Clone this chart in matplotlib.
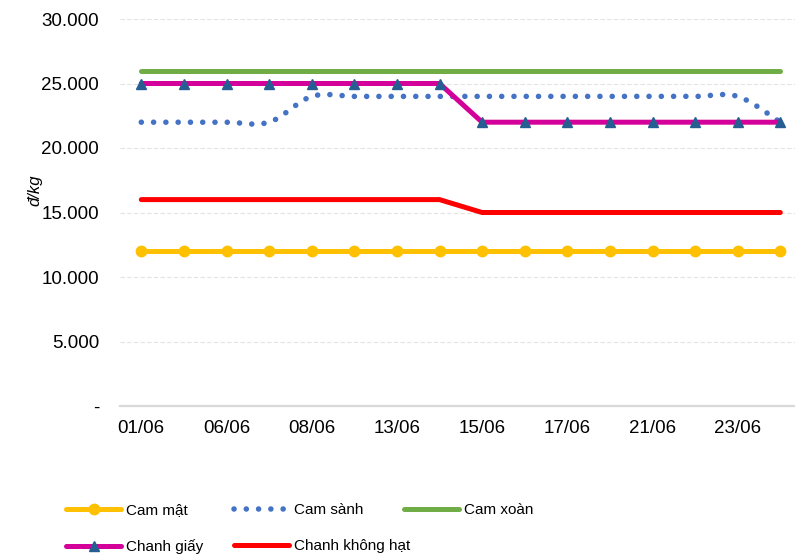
import numpy as np
import matplotlib
matplotlib.use("Agg")
import matplotlib.pyplot as plt
from matplotlib.lines import Line2D

plt.rcParams['font.family'] = ['Liberation Sans', 'DejaVu Sans']

dates = ["01/06", "02/06", "06/06", "07/06", "08/06", "09/06", "13/06", "14/06",
         "15/06", "16/06", "17/06", "20/06", "21/06", "22/06", "23/06", "24/06"]
cam_mat = [12000] * 16
cam_sanh = [22000, 22000, 22000, 22000, 24000, 24000, 24000, 24000,
            24000, 24000, 24000, 24000, 24000, 24000, 24000, 22000]
cam_xoan = [26000] * 16
chanh_giay = [25000] * 8 + [22000] * 8
chanh_khong_hat = [16000] * 8 + [15000] * 8

y_ticks = [0, 5000, 10000, 15000, 20000, 25000, 30000]
y_labels = ["-", "5.000", "10.000", "15.000", "20.000", "25.000", "30.000"]
labels = ["Cam mật", "Cam sành", "Cam xoàn", "Chanh giấy", "Chanh không hạt"]


def smooth(xs, ys, n=30):
    xs = np.asarray(xs, float)
    ys = np.asarray(ys, float)
    P = np.column_stack([xs, ys])
    out = []
    for i in range(len(P) - 1):
        p0 = P[i]
        p3 = P[i + 1]
        pm = P[i - 1] if i > 0 else P[i]
        pp = P[i + 2] if i + 2 < len(P) else P[i + 1]
        p1 = p0 + (p3 - pm) / 6.0
        p2 = p3 - (pp - p0) / 6.0
        t = np.linspace(0, 1, n, endpoint=(i == len(P) - 2))[:, None]
        seg = ((1 - t) ** 3) * p0 + 3 * ((1 - t) ** 2) * t * p1 + 3 * (1 - t) * t ** 2 * p2 + t ** 3 * p3
        out.append(seg)
    out = np.vstack(out)
    return out[:, 0], out[:, 1]


fig = plt.figure(figsize=(7.95, 5.57), dpi=100)
ax = fig.add_axes([120 / 795, 1 - 406 / 557, 675 / 795, (406 - 19) / 557])

x = np.arange(len(dates))

c_mat = '#FFC000'
c_sanh = '#4472C4'
c_xoan = '#70AD47'
c_giay = '#D4009A'
c_tri = '#265E92'
c_khong = '#FF0000'
lw = 3.6
dot_style = (0, (0.01, 2.2))

ax.plot(x, cam_mat, color=c_mat, lw=lw, marker='o', ms=7.5, mfc=c_mat, mec=c_mat,
        solid_capstyle='round', zorder=3)
sx, sy = smooth(x, cam_sanh)
ax.plot(sx, sy, color=c_sanh, lw=4.0, linestyle=dot_style,
        dash_capstyle='round', zorder=3)
ax.plot(x, cam_xoan, color=c_xoan, lw=lw, solid_capstyle='round', zorder=3)
ax.plot(x, chanh_giay, color=c_giay, lw=lw, solid_capstyle='round', zorder=4)
ax.plot(x, chanh_giay, color=c_tri, lw=0, marker='^', ms=7.5, zorder=5)
ax.plot(x, chanh_khong_hat, color=c_khong, lw=lw, solid_capstyle='round', zorder=3)

ax.set_ylim(0, 30000)
ax.set_xlim(-0.5, -0.5 + 675 / 42.6)
ax.set_yticks(y_ticks)
ax.set_yticklabels(y_labels)
ax.set_xticks(x[::2])
ax.set_xticklabels(dates[::2])
ax.tick_params(axis='both', length=0, labelsize=13.5, colors='black')
ax.tick_params(axis='y', pad=15)
ax.tick_params(axis='x', pad=10)
ax.grid(axis='y', color='#E3E3E3', lw=0.8, linestyle=(0, (4, 2)))
ax.set_axisbelow(True)
for s in ['top', 'right', 'left']:
    ax.spines[s].set_visible(False)
ax.spines['bottom'].set_color('#D9D9D9')
ax.spines['bottom'].set_linewidth(1.6)
ax.spines['bottom'].set_zorder(1)

fig.text(35 / 795, 1 - 190 / 557, "đ/kg", rotation=90, style='italic',
         fontsize=12, ha='center', va='center')

handles = [
    Line2D([], [], color=c_mat, lw=lw, marker='o', ms=7.5, solid_capstyle='round'),
    Line2D([], [], color=c_sanh, lw=4.0, linestyle=dot_style, dash_capstyle='round'),
    Line2D([], [], color=c_xoan, lw=lw, solid_capstyle='round'),
    Line2D([], [], color=c_giay, lw=lw, marker='^', ms=7.5, mfc=c_tri, mec=c_tri,
           solid_capstyle='round'),
    Line2D([], [], color=c_khong, lw=lw, solid_capstyle='round'),
]
# Equal-width legend columns (row-major order like the reference)
col_x = [66, 234, 404]
columns = [[0, 3], [1, 4], [2]]
for cx, idxs in zip(col_x, columns):
    fig.legend([handles[i] for i in idxs], [labels[i] for i in idxs], ncol=1,
               loc='upper left', bbox_to_anchor=(cx / 795, 1 - 503 / 557),
               frameon=False, fontsize=11, handlelength=3.6, handletextpad=0.3,
               labelspacing=1.45, borderpad=0, borderaxespad=0, numpoints=1)

fig.savefig("out.png", dpi=100)
